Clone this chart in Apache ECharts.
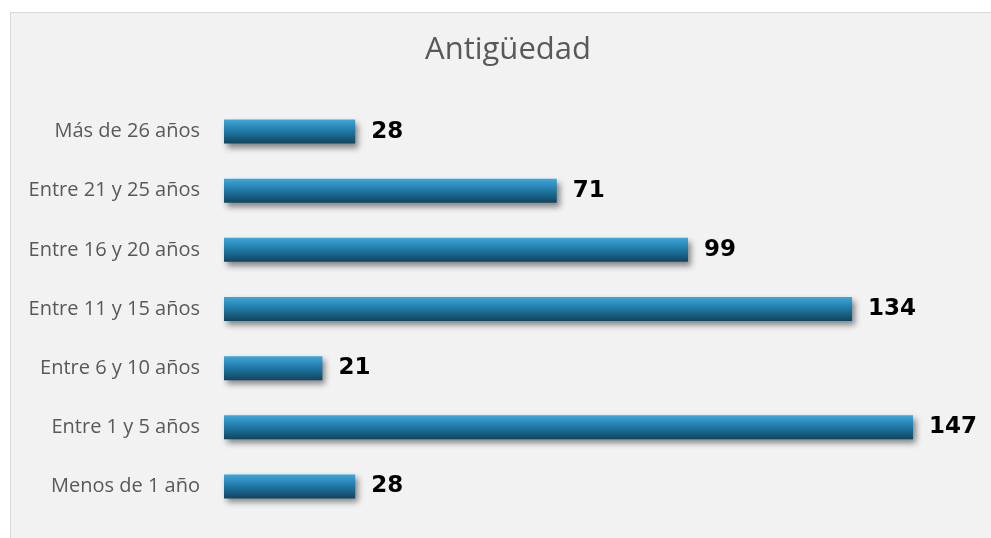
<!DOCTYPE html>
<html>
<head>
<meta charset="utf-8">
<script src="https://cdn.jsdelivr.net/npm/echarts@6/dist/echarts.min.js"></script>
<style>
  html, body { margin: 0; padding: 0; background: #ffffff; }
  .panel {
    position: absolute; left: 10px; top: 12px; width: 990px; height: 540px;
    background: #f2f2f2; border-left: 1px solid #d9d9d9; border-top: 1px solid #d9d9d9;
  }
  #chart { position: absolute; left: 0; top: 0; width: 991px; height: 538px; }
</style>
</head>
<body>
<div class="panel"></div>
<div id="chart"></div>
<script>
// categories from bottom to top
const categories = ['Menos de 1 año', 'Entre 1 y 5 años', 'Entre 6 y 10 años', 'Entre 11 y 15 años',
  'Entre 16 y 20 años', 'Entre 21 y 25 años', 'Más de 26 años'];
const values = [28, 147, 21, 134, 99, 71, 28];
const titleText = 'Antigüedad';

let myChart = echarts.init(document.getElementById('chart'));
let option = {
  backgroundColor: 'transparent',
  animation: false,
  title: {
    text: titleText,
    left: 503,
    textAlign: 'center',
    top: 30,
    textStyle: { color: '#595959', fontSize: 31, fontWeight: 'normal', fontFamily: 'Open Sans' }
  },
  grid: { left: 224, right: 78, top: 102, bottom: 22 },
  xAxis: {
    type: 'value', min: 0, max: 147, show: false
  },
  yAxis: {
    type: 'category',
    data: categories,
    axisLine: { show: false },
    axisTick: { show: false },
    axisLabel: { color: '#595959', fontSize: 20, margin: 24, fontFamily: 'Open Sans' }
  },
  series: [{
    type: 'bar',
    data: values,
    barWidth: 24,
    itemStyle: {
      color: new echarts.graphic.LinearGradient(0, 0, 0, 1, [
        { offset: 0, color: '#3fa7d9' },
        { offset: 0.5, color: '#1f77a3' },
        { offset: 1, color: '#11445f' }
      ]),
      shadowColor: 'rgba(0,0,0,0.45)',
      shadowBlur: 6,
      shadowOffsetX: 3,
      shadowOffsetY: 4
    },
    label: {
      show: true,
      position: 'right',
      distance: 16,
      color: '#000000',
      fontSize: 23,
      fontWeight: 'bold',
      fontFamily: 'DejaVu Sans'
    }
  }]
};
myChart.setOption(option);
</script>
</body>
</html>
